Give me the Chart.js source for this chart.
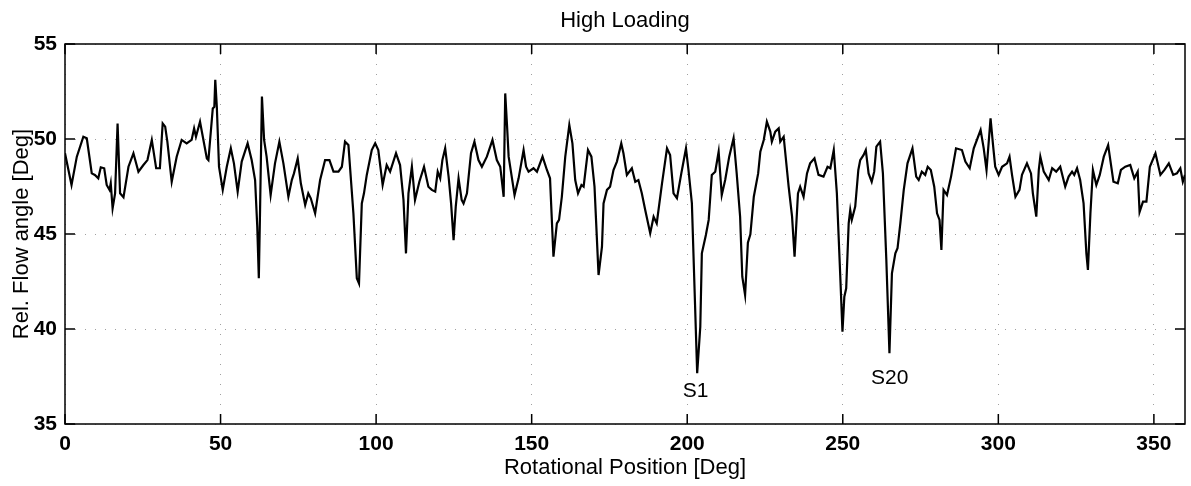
<!DOCTYPE html>
<html>
<head>
<meta charset="utf-8">
<script src="https://cdn.jsdelivr.net/npm/chart.js@4"></script>
<style>
  html, body { margin: 0; padding: 0; background: #fff; }
  #wrap { width: 1191px; height: 486px; position: relative; }
</style>
</head>
<body>
<div id="wrap"><canvas id="flow-chart"></canvas></div>
<script>
// High Loading: relative flow angle vs rotational position

const rotPos = [
  0, 2.1, 3.8, 5.9, 7.0, 8.6, 9.6, 10.7, 11.5, 12.6, 13.4, 14.3, 14.7, 15.3, 16.1, 16.9, 17.7, 18.8,
  20.4, 22.0, 23.6, 25.2, 26.5, 27.9, 29.3, 30.5, 31.4, 32.2, 32.9, 34.3, 35.9, 37.5, 39.1, 40.7,
  41.5, 42.1, 43.4, 45.6, 46.1, 47.5, 48.0, 48.3, 48.8, 49.5, 50.7, 52.0, 53.3, 54.3, 55.5, 56.8,
  58.7, 60.0, 61.1, 61.8, 62.3, 62.7, 63.3, 64.0, 64.8, 66.1, 67.5, 68.9, 70.2, 71.8, 72.9, 73.6,
  74.8, 75.8, 77.2, 78.2, 79.0, 80.4, 82.0, 83.6, 85.0, 86.3, 87.9, 89.0, 90.0, 91.1, 92.7, 93.8,
  94.5, 95.4, 96.1, 97.0, 98.6, 99.7, 100.7, 102.1, 103.4, 104.5, 106.4, 107.7, 108.8, 109.6, 110.4,
  111.5, 112.5, 113.9, 115.4, 116.8, 117.9,
  119.0, 119.8, 120.6, 121.3, 122.2, 123.3, 124.1, 124.9, 125.6, 126.5, 127.5, 128.1, 129.2, 130.5,
  131.6, 132.9, 134.0, 135.6, 137.4, 138.8, 139.9, 141.0, 141.5, 142.1, 142.6, 144.5, 145.8, 147.4,
  148.2, 149.0, 150.6, 151.7, 153.5, 154.9, 155.9, 157.0, 158.1, 158.8, 159.7, 160.8, 162.1, 163.1,
  164.0, 164.9, 166.0, 166.7, 168.1, 169.2, 170.2, 171.5, 172.6, 173.1, 174.2, 175.2, 176.3, 177.4,
  178.8, 179.5, 180.6, 182.2, 183.3, 184.3, 185.4, 186.5, 188.1, 189.2, 190.2, 191.9, 193.5, 194.5,
  195.6, 196.7, 198.1, 198.5, 199.6, 200.4, 201.5, 202.4, 203.2, 204.2, 204.7, 206.0, 206.9, 207.9,
  209.0, 210.1, 211.1, 212.2, 213.5, 214.9, 215.9, 217.0, 217.7, 218.6, 219.5, 220.3, 221.4, 222.8,
  223.5, 224.6, 225.6, 226.7, 227.2, 228.3, 229.4, 229.9, 231.0, 232.6, 233.7, 234.5, 235.6, 236.3,
  237.4, 238.5, 239.5, 240.9,
  242.2, 243.8, 245.1, 246.0, 247.1, 248.1, 249.2, 249.9, 250.5, 251.1, 251.9, 252.4, 252.9, 254.0,
  255.0, 255.6, 256.7, 257.4, 258.3, 259.3, 260.1, 260.8, 262.0, 262.9, 264.0, 265.0, 265.8, 266.9,
  267.6, 268.5, 269.6, 270.8, 272.4, 273.6, 274.4, 275.4, 276.5, 277.3, 278.3, 279.4, 280.3, 281.1,
  281.7, 282.4, 283.5, 284.8, 286.4, 288.3, 289.4, 290.8, 292.1, 294.3, 295.3, 296.2, 297.5, 298.3,
  299.0, 300.1, 301.2, 302.8, 303.6, 304.4, 305.5, 306.8, 307.6, 309.2, 310.5, 311.1, 312.2, 313.0,
  313.5, 314.6, 316.2, 317.3, 318.6, 319.9, 321.5, 322.6, 323.7, 324.4, 325.3, 326.3, 327.4, 328.3,
  328.8, 329.6, 330.4, 331.5, 332.6, 333.9, 335.3, 337.0, 338.4, 339.4, 340.8, 342.4, 343.7, 344.8,
  345.4, 346.5, 347.6, 348.7, 350.5, 352.1, 353.4, 354.8, 356.2, 357.4, 358.5, 359.3, 360.0
];

const flowAngle = [
  49.25, 47.58, 49.07, 50.12, 50.04, 48.19, 48.11, 47.93, 48.51, 48.46, 47.58, 47.32, 47.67, 46.35, 47.14, 50.82, 47.14, 46.93,
  48.54, 49.25, 48.28, 48.63, 48.89, 49.95, 48.46, 48.46, 50.82, 50.65, 49.86, 47.75, 49.07, 49.95, 49.77, 49.95,
  50.56, 50.12, 50.91, 48.98, 48.89, 51.61, 51.70, 53.11, 51.70, 48.54, 47.32, 48.54, 49.51, 48.72, 47.23, 48.81,
  49.77, 48.89, 47.84, 45.39, 42.67, 46.26, 52.23, 49.95, 49.07, 47.05, 48.72, 49.86, 48.72, 46.96, 47.84, 48.19,
  48.98, 47.67, 46.53, 47.14, 46.88, 46.09, 47.84, 48.89, 48.89, 48.28, 48.28, 48.54, 49.86, 49.68, 46.09, 42.67,
  42.40, 46.61, 47.14, 48.11, 49.42, 49.77, 49.42, 47.58, 48.63, 48.28, 49.25, 48.63, 46.79, 43.98, 47.14,
  48.54, 46.79, 47.75, 48.54, 47.49, 47.32,
  47.23, 48.28, 47.93, 48.89, 49.51, 48.02, 46.61, 44.68, 46.44, 47.93, 46.79, 46.61, 47.14, 49.25,
  49.86, 48.89, 48.54, 49.07, 49.95, 48.89, 48.54, 46.96, 52.40, 50.65, 49.07, 47.05, 47.93, 49.42,
  48.54, 48.28, 48.46, 48.28, 49.07, 48.37, 47.93, 43.81, 45.56, 45.74, 46.96, 49.07, 50.74, 49.77,
  47.84, 47.14, 47.58, 47.49, 49.42, 49.07, 47.49, 42.84, 44.33, 46.61, 47.32, 47.49, 48.37, 48.81,
  49.77, 49.25, 48.11, 48.46, 47.75, 47.84, 47.14, 46.26, 45.04, 45.91, 45.56, 47.67, 49.51, 49.16,
  47.14, 46.88, 48.19, 48.54, 49.51, 48.37, 46.61, 41.88, 37.67, 40.12, 43.98, 44.95, 45.74, 48.11,
  48.28, 49.33, 47.05, 47.84, 49.07, 50.04, 48.19, 45.91, 42.75, 41.79, 44.54, 44.98, 46.96, 48.19,
  49.33, 49.95, 50.91, 50.39, 49.86, 50.39, 50.56, 49.86, 50.12, 47.49, 45.91, 43.81, 47.14, 47.49,
  46.96, 48.19, 48.72, 48.98,
  48.11, 48.02, 48.54, 48.46, 49.42, 47.14, 42.75, 39.86, 41.70, 42.14, 45.56, 46.26, 45.74, 46.44,
  48.37, 48.89, 49.16, 49.42, 48.19, 47.75, 48.28, 49.60, 49.86, 48.19, 43.63, 38.72, 42.93, 43.98,
  44.25, 45.56, 47.32, 48.72, 49.51, 48.02, 47.84, 48.28, 48.11, 48.54, 48.37, 47.49, 46.09, 45.74,
  44.16, 47.32, 47.05, 48.02, 49.51, 49.42, 48.81, 48.46, 49.51, 50.47, 49.51, 48.37, 51.09, 49.68,
  48.54, 48.11, 48.54, 48.72, 49.07, 48.11, 46.96, 47.32, 48.11, 48.72, 48.19, 47.14, 45.91, 48.37,
  49.07, 48.28, 47.84, 48.46, 48.28, 48.54, 47.49, 48.02, 48.28, 48.11, 48.46, 47.84, 46.61, 43.98,
  43.11, 46.09, 48.37, 47.58, 48.11, 49.07, 49.68, 47.75, 47.67, 48.37, 48.54, 48.63, 47.93, 48.28,
  46.16, 46.70, 46.70, 48.54, 49.25, 48.11, 48.37, 48.72, 48.11, 48.19, 48.46, 47.75, 48.11
];

const xTicks = [0, 50, 100, 150, 200, 250, 300, 350];
const yTicks = [35, 40, 45, 50, 55];
const chartTitle = 'High Loading';

// stage labels placed under the two deepest dips
const stageNames = ['S1', 'S20'];
const stageAt = [202.7, 265.1];
const stageVal = [36.7, 37.4];

const FONT = '"Liberation Sans", Arial, Helvetica, sans-serif';

const frameTicks = {
  id: 'frameTicks',
  afterDraw(chart) {
    const { ctx, chartArea: a, scales: { x, y } } = chart;
    ctx.save();
    ctx.strokeStyle = '#000';
    ctx.lineWidth = 1.5;
    ctx.strokeRect(a.left, a.top, a.right - a.left, a.bottom - a.top);

    // matlab style inward tick marks on all four sides
    const len = 10;
    ctx.beginPath();
    xTicks.forEach(v => {
      const px = x.getPixelForValue(v);
      ctx.moveTo(px, a.bottom); ctx.lineTo(px, a.bottom - len);
      ctx.moveTo(px, a.top); ctx.lineTo(px, a.top + len);
    });
    yTicks.forEach(v => {
      const py = y.getPixelForValue(v);
      ctx.moveTo(a.left, py); ctx.lineTo(a.left + len, py);
      ctx.moveTo(a.right, py); ctx.lineTo(a.right - len, py);
    });
    ctx.stroke();

    ctx.fillStyle = '#000';
    ctx.textAlign = 'center';
    ctx.textBaseline = 'middle';
    ctx.font = '22px ' + FONT;
    ctx.fillText(chartTitle, (a.left + a.right) / 2, 21);

    ctx.font = '21px ' + FONT;
    stageNames.forEach((name, i) => {
      ctx.fillText(name, x.getPixelForValue(stageAt[i]), y.getPixelForValue(stageVal[i]));
    });
    ctx.restore();
  }
};

new Chart(document.getElementById('flow-chart'), {
  type: 'line',
  data: {
    datasets: [{
      label: 'Rel. Flow angle',
      data: rotPos.map((p, i) => ({ x: p, y: flowAngle[i] })),
      borderColor: '#000',
      borderWidth: 2.2,
      pointRadius: 0,
      tension: 0,
      fill: false
    }]
  },
  options: {
    responsive: true,
    maintainAspectRatio: false,
    animation: false,
    layout: { padding: { left: 0, right: 6, top: 44, bottom: 0 } },
    plugins: {
      legend: { display: false },
      tooltip: { enabled: false },
      title: { display: false }
    },
    scales: {
      x: {
        type: 'linear',
        min: 0, max: 360,
        afterBuildTicks: s => { s.ticks = xTicks.map(v => ({ value: v })); },
        afterFit: s => { s.height = 62; },
        ticks: {
          color: '#000', padding: 8, maxRotation: 0, autoSkip: false,
          font: { family: FONT, size: 21, weight: 'bold' }
        },
        grid: { color: '#a0a0a0', lineWidth: 1, drawTicks: false },
        border: { display: false, dash: [1, 9] },
        title: {
          display: true,
          text: 'Rotational Position [Deg]',
          color: '#000',
          font: { family: FONT, size: 22, weight: 'normal', lineHeight: 1.2 },
          padding: { top: 0, bottom: 5 }
        }
      },
      y: {
        min: 35, max: 55,
        afterBuildTicks: s => { s.ticks = yTicks.map(v => ({ value: v })); },
        afterFit: s => { s.width = 65; },
        ticks: {
          color: '#000', padding: 8,
          font: { family: FONT, size: 21, weight: 'bold' }
        },
        grid: { color: '#a0a0a0', lineWidth: 1, drawTicks: false },
        border: { display: false, dash: [1, 9] },
        title: {
          display: true,
          text: 'Rel. Flow angle [Deg]',
          color: '#000',
          font: { family: FONT, size: 22, weight: 'normal', lineHeight: 1.2 },
          padding: { top: 9, bottom: 0 }
        }
      }
    }
  },
  plugins: [frameTicks]
});
</script>
</body>
</html>
